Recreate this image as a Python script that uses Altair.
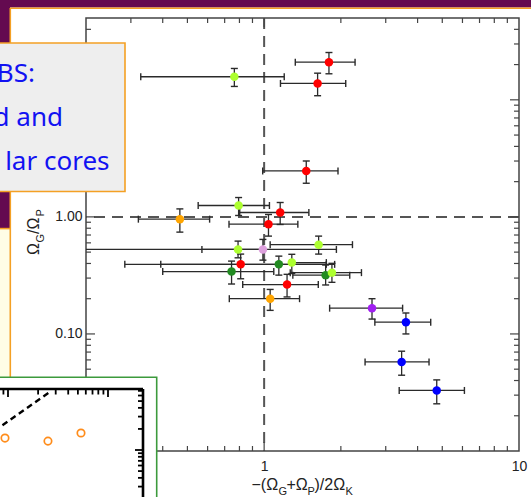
import altair as alt
import pandas as pd

# ---------------------------------------------------------------------------
# Core measurements: x = -(ΩG+ΩP)/2ΩK, y = ΩG/ΩP, with asymmetric error bounds
# ---------------------------------------------------------------------------
grp = ["A", "B", "B", "B", "C", "A", "B", "B", "A", "D", "A", "B",
       "E", "E", "A", "E", "A", "B", "C", "F", "G", "G", "G"]
x_val = [0.764, 1.796, 1.621, 1.463, 0.467, 0.794, 1.156, 1.040, 0.790, 0.989, 1.636, 0.809,
         0.745, 1.142, 1.284, 1.743, 1.845, 1.230, 1.056, 2.650, 3.600, 3.463, 4.756]
x_lo = [0.328, 1.325, 1.159, 0.987, 0.321, 0.551, 0.802, 0.728, 0.570, 0.150, 1.056, 0.284,
        0.400, 0.393, 1.260, 1.296, 1.266, 0.824, 0.730, 1.807, 2.719, 2.489, 3.388]
x_hi = [1.199, 2.274, 2.090, 1.949, 0.611, 1.049, 1.498, 1.356, 1.000, 1.921, 2.221, 1.891,
        1.091, 1.754, 1.754, 2.167, 2.409, 1.631, 1.377, 3.494, 4.504, 4.436, 6.107]
y_val = [15.74, 20.96, 13.80, 2.467, 0.956, 1.251, 1.090, 0.866, 0.527, 0.527, 0.579, 0.393,
         0.341, 0.393, 0.407, 0.318, 0.334, 0.264, 0.200, 0.166, 0.126, 0.0577, 0.0329]
y_lo = [13.01, 16.69, 10.84, 1.938, 0.741, 1.028, 0.861, 0.685, 0.447, 0.427, 0.481, 0.296,
        0.267, 0.318, 0.328, 0.262, 0.276, 0.207, 0.159, 0.134, 0.100, 0.0444, 0.0253]
y_hi = [18.53, 25.36, 16.89, 3.002, 1.170, 1.463, 1.327, 1.048, 0.621, 0.642, 0.685, 0.481,
        0.419, 0.462, 0.479, 0.388, 0.401, 0.323, 0.240, 0.200, 0.151, 0.0712, 0.0405]

group_names = ["A", "B", "C", "D", "E", "F", "G"]
group_colors = ["#adff2f", "#ff0000", "#ffa500", "#dda0dd", "#228b22", "#a020f0", "#0000ff"]

# axis ticks (log decades)
x_minor = [0.3, 0.4, 0.5, 0.6, 0.7, 0.8, 0.9, 2, 3, 4, 5, 6, 7, 8, 9]
x_major = [1]
y_minor = [0.02, 0.03, 0.04, 0.05, 0.06, 0.07, 0.08, 0.09,
           0.2, 0.3, 0.4, 0.5, 0.6, 0.7, 0.8, 0.9,
           2, 3, 4, 5, 6, 7, 8, 9, 20, 30, 40]
y_major = [0.1, 1, 10]
x_labels = [1, 10]
y_labels = [0.1, 1]

# small inset panel
inset_x = [0.933, 2.51, 5.37]
inset_y = [1.48, 1.34, 1.75]
inset_line_x = [0.5, 2.63]
inset_line_y = [1.28, 6.76]
ix_minor = [0.9, 2, 3, 4, 5, 6, 7, 8, 9]
ix_major = [1, 10]
iy_minor = [0.2, 0.3, 0.4, 0.5, 0.6, 0.7, 0.8, 0.9, 2, 3, 4, 5, 6, 7]
iy_major = [1]

# ---------------------------------------------------------------------------
W, H = 433, 433          # plot area
OX, OY = 86, 18          # plot origin on the page
FONT = "Liberation Sans"
INK = "#2a2a2a"


def px(v):
    return v - OX


def py(v):
    return v - OY


df = pd.DataFrame({"grp": grp, "x": x_val, "xlo": x_lo, "xhi": x_hi,
                   "y": y_val, "ylo": y_lo, "yhi": y_hi})
one = pd.DataFrame({"k": [0]})

xs = alt.Scale(type="log", domain=[0.2, 10], nice=False)
ys = alt.Scale(type="log", domain=[0.01, 50], nice=False)

XAX = alt.Axis(values=x_labels, format="~g", ticks=False, tickSize=0, domain=False, grid=False,
               labelPadding=8, labelFontSize=14, labelFont=FONT, labelColor="#222",
               labelFlush=False, labelOverlap=False, title=None, zindex=0)
YAX = alt.Axis(values=y_labels, format=".2f", ticks=False, tickSize=0, domain=False, grid=False,
               labelPadding=4, labelFontSize=14, labelFont=FONT, labelColor="#222",
               labelFlush=False, labelOverlap=False, title=None, zindex=0)


def X(f):
    return alt.X(f, type="quantitative", scale=xs, axis=XAX)


def Y(f):
    return alt.Y(f, type="quantitative", scale=ys, axis=YAX)


def vals(v):
    return pd.DataFrame({"v": v})


# reference lines at unity
dash_v = alt.Chart(vals([1])).mark_rule(color="#555", strokeWidth=2, strokeDash=[11, 7]).encode(x=X("v"))
dash_h = alt.Chart(vals([1])).mark_rule(color="#555", strokeWidth=2, strokeDash=[11, 7]).encode(y=Y("v"))

# inward ticks on all four sides
tick_layers = []
for lst, ln in ((x_minor, 5), (x_major, 9)):
    tick_layers.append(alt.Chart(vals(lst)).mark_rule(color="#444", strokeWidth=1.2).encode(
        x=X("v"), y=alt.value(0), y2=alt.value(ln)))
    tick_layers.append(alt.Chart(vals(lst)).mark_rule(color="#444", strokeWidth=1.2).encode(
        x=X("v"), y=alt.value(H), y2=alt.value(H - ln)))
for lst, ln in ((y_minor, 5), (y_major, 9)):
    tick_layers.append(alt.Chart(vals(lst)).mark_rule(color="#444", strokeWidth=1.2).encode(
        y=Y("v"), x=alt.value(0), x2=alt.value(ln)))
    tick_layers.append(alt.Chart(vals(lst)).mark_rule(color="#444", strokeWidth=1.2).encode(
        y=Y("v"), x=alt.value(W), x2=alt.value(W - ln)))

base = alt.Chart(df)
err_h = base.mark_rule(color=INK, strokeWidth=1.3, clip=True).encode(
    x=X("xlo"), x2="xhi:Q", y=Y("y"))
err_v = base.mark_rule(color=INK, strokeWidth=1.3, clip=True).encode(
    x=X("x"), y=Y("ylo"), y2="yhi:Q")
cap_x = base.transform_fold(["xlo", "xhi"], as_=["end", "xe"]).mark_tick(
    orient="vertical", size=7, thickness=1.4, color=INK, opacity=1, clip=True).encode(
    x=X("xe"), y=Y("y"))
cap_y = base.transform_fold(["ylo", "yhi"], as_=["end", "ye"]).mark_tick(
    orient="horizontal", size=7, thickness=1.4, color=INK, opacity=1, clip=True).encode(
    x=X("x"), y=Y("ye"))
points = base.mark_circle(size=72, opacity=1).encode(
    x=X("x"), y=Y("y"),
    color=alt.Color("grp:N", scale=alt.Scale(domain=group_names, range=group_colors), legend=None))

main = alt.layer(dash_v, dash_h, *tick_layers, err_h, err_v, cap_x, cap_y, points)


# ---------------------------------------------------------------------------
# page furniture drawn over the plot
# ---------------------------------------------------------------------------
def rect(x0, y0, x1, y1, fill, stroke=None, sw=0):
    kw = {"fill": fill}
    if stroke:
        kw.update(stroke=stroke, strokeWidth=sw)
    return alt.Chart(one).mark_rect(**kw).encode(
        x=alt.value(px(x0)), x2=alt.value(px(x1)), y=alt.value(py(y0)), y2=alt.value(py(y1)))


def line(x0, y0, x1, y1, color, sw):
    return alt.Chart(one).mark_rule(color=color, strokeWidth=sw).encode(
        x=alt.value(px(x0)), x2=alt.value(px(x1)), y=alt.value(py(y0)), y2=alt.value(py(y1)))


def label(s, x, y, size, color="#222", align="left", angle=0, font=FONT):
    kw = dict(align=align, baseline="alphabetic", font=font, fontSize=size, color=color)
    if angle:
        kw["angle"] = angle
    return alt.Chart(one).mark_text(**kw).encode(
        x=alt.value(px(x)), y=alt.value(py(y)), text=alt.value(s))


PURPLE = "#640a50"
ORANGE = "#f4a024"
BLUE = "#1212f2"
BOX_FONT = "Noto Sans"

furniture = alt.layer(
    rect(0, 0, 531, 7.5, PURPLE),
    rect(0, 0, 10, 228, PURPLE),
    rect(0, 229, 10.3, 377, "#fffde6"),
    line(10, 8.2, 531, 8.2, ORANGE, 1.6),
    line(10.3, 8, 10.3, 377, ORANGE, 1.6),
    line(0, 228.6, 10.3, 228.6, ORANGE, 1.6),
    rect(-5, 43, 125, 191.5, "#eeeeee", ORANGE, 1.6),
    label("BS:", 35, 82, 26, BLUE, "right", font=BOX_FONT),
    label("d and", 63, 126, 26, BLUE, "right", font=BOX_FONT),
    label("lar cores", 109.5, 170, 26, BLUE, "right", font=BOX_FONT),
    rect(-5, 377.3, 156.7, 505, "#ffffff", "#3c9a3c", 1.6),
)

# axis titles with subscripts
titles = alt.layer(
    label("\u2212(\u03a9", 251.5, 490, 16),
    label("G", 278.5, 494.5, 11),
    label("+\u03a9", 286.5, 490, 16),
    label("P", 307.5, 494.5, 11),
    label(")/2\u03a9", 314.5, 490, 16),
    label("K", 345.5, 494.5, 11),
    label("\u03a9", 39, 255, 16, angle=270),
    label("G", 43.5, 242.5, 11, angle=270),
    label("/\u03a9", 39, 234, 16, angle=270),
    label("P", 43.5, 216.5, 11, angle=270),
)

# ---------------------------------------------------------------------------
# inset panel (own log scales placed inside the green box)
# ---------------------------------------------------------------------------
ixs = alt.Scale(type="log", domain=[0.1, 100], range=[px(-92), px(208)], nice=False)
iys = alt.Scale(type="log", domain=[0.1, 10], range=[py(520), py(380)], nice=False)


def IX(f):
    return alt.X(f, type="quantitative", scale=ixs, axis=None)


def IY(f):
    return alt.Y(f, type="quantitative", scale=iys, axis=None)


inset_layers = [
    line(-5, 389, 143, 389, "#000", 2.6),
    line(143, 389, 143, 505, "#000", 2.6),
]
for lst, ln in ((ix_minor, 5.5), (ix_major, 8)):
    inset_layers.append(alt.Chart(vals(lst)).mark_rule(color="#000", strokeWidth=1.8).encode(
        x=IX("v"), y=alt.value(py(389)), y2=alt.value(py(389 + ln))))
for lst, ln in ((iy_minor, 5), (iy_major, 8)):
    inset_layers.append(alt.Chart(vals(lst)).mark_rule(color="#000", strokeWidth=1.8).encode(
        y=IY("v"), x=alt.value(px(143)), x2=alt.value(px(143 - ln))))
inset_layers.append(
    alt.Chart(pd.DataFrame({"a": inset_line_x, "b": inset_line_y})).mark_line(
        color="#000", strokeWidth=2.4, strokeDash=[6, 4]).encode(x=IX("a"), y=IY("b")))
inset_layers.append(
    alt.Chart(pd.DataFrame({"a": inset_x, "b": inset_y})).mark_point(
        shape="circle", filled=False, size=55, strokeWidth=1.7, color="#ff8c1a", opacity=1).encode(
        x=IX("a"), y=IY("b")))
inset = alt.layer(*inset_layers)

chart = alt.layer(main, furniture, titles, inset).resolve_scale(
    x="independent", y="independent"
).properties(
    width=W, height=H,
    autosize=alt.AutoSizeParams(type="none"),
    padding={"left": OX, "top": OY, "right": 531 - OX - W, "bottom": 497 - OY - H},
    background="white",
).configure_view(stroke="#444", strokeWidth=1.5)

chart.save("out.html", embed_options={"renderer": "svg", "actions": False})
